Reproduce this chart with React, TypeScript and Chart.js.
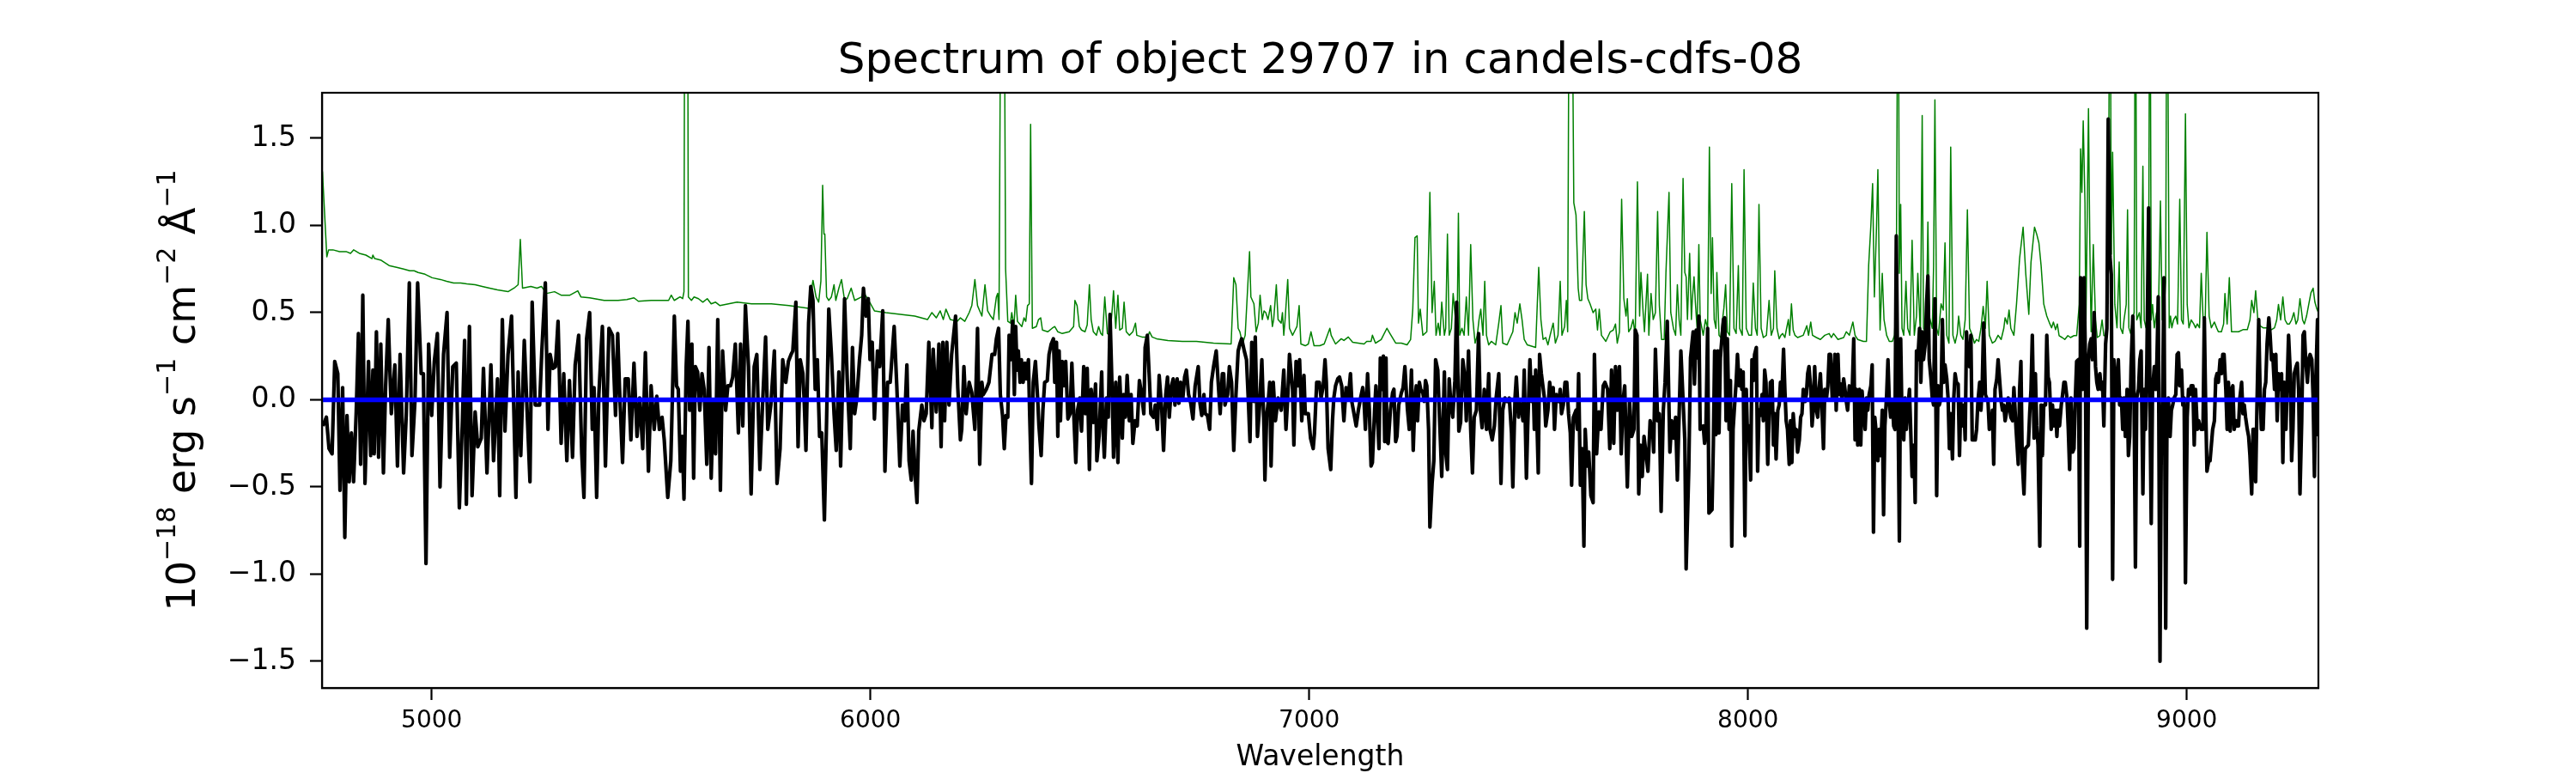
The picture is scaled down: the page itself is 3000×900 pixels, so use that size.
import React, { useEffect, useRef } from 'react';
import { Chart, registerables } from 'chart.js';

Chart.register(...registerables);

const TITLE = 'Spectrum of object 29707 in candels-cdfs-08';
const X_LABEL = 'Wavelength';
const Y_LABEL_PARTS: [string, boolean][] = [
  ['10', false], ['\u221218', true], [' erg s', false], ['\u22121', true],
  [' cm', false], ['\u22122', true], [' \u00c5', false], ['\u22121', true],
];
const X_TICKS = [5000, 6000, 7000, 8000, 9000];
const Y_TICKS = [-1.5, -1.0, -0.5, 0, 0.5, 1.0, 1.5];
const X_MIN = 4750;
const X_MAX = 9300;
const Y_MIN = -1.653;
const Y_MAX = 1.761;

// blue model / zero level
const MODEL: [number, number][] = [[4750, 0], [9300, 0]];

// black: measured flux
const FLUX: [number, number][] = [
[4752,-0.15],[4760,-0.10],[4766,-0.28],[4773,-0.31],[4779,0.22],[4786,0.15],[4791,-0.52],[4797,0.07],[4802,-0.79],[4807,-0.09],[4812,-0.47],[4817,-0.19],[4822,-0.47],[4828,-0.07],[4833,0.38],[4838,-0.37],[4843,0.60],[4848,-0.48],[4856,0.22],[4861,-0.32],[4866,0.17],[4869,-0.31],[4874,0.39],[4879,-0.33],[4884,0.32],[4890,-0.42],[4895,0.08],[4901,0.46],[4908,-0.08],[4916,0.20],[4922,-0.38],[4928,0.26],[4936,-0.42],[4942,-0.09],[4949,0.67],[4955,-0.32],[4962,0.00],[4968,0.67],[4976,0.15],[4981,0.15],[4987,-0.94],[4993,0.32],[5000,-0.09],[5006,0.22],[5013,0.38],[5019,-0.50],[5027,0.26],[5035,0.50],[5041,-0.33],[5048,0.19],[5056,0.21],[5063,-0.62],[5070,-0.12],[5075,0.34],[5079,-0.60],[5086,0.42],[5092,-0.55],[5099,-0.07],[5105,-0.27],[5113,-0.22],[5118,0.18],[5126,-0.42],[5135,0.20],[5141,-0.35],[5150,0.12],[5155,-0.55],[5161,0.46],[5167,-0.18],[5174,0.26],[5182,0.48],[5192,-0.56],[5197,0.16],[5203,-0.32],[5211,0.34],[5224,-0.47],[5229,0.56],[5236,-0.03],[5246,-0.03],[5251,0.28],[5259,0.67],[5265,-0.17],[5270,0.26],[5276,0.18],[5282,0.19],[5288,0.45],[5295,-0.25],[5301,0.15],[5308,-0.35],[5314,0.11],[5321,-0.33],[5327,0.20],[5335,0.37],[5342,-0.31],[5347,-0.56],[5353,0.35],[5360,0.50],[5366,-0.17],[5370,0.07],[5376,-0.56],[5381,0.03],[5389,0.42],[5396,-0.38],[5404,0.41],[5412,0.37],[5419,-0.09],[5424,0.38],[5428,0.07],[5435,-0.36],[5441,0.12],[5448,0.12],[5454,-0.23],[5461,0.21],[5468,-0.21],[5474,0.01],[5481,-0.28],[5487,0.27],[5494,-0.41],[5500,0.08],[5507,-0.17],
[5513,0.02],[5519,-0.17],[5525,-0.10],[5530,-0.23],[5538,-0.56],[5545,-0.35],[5547,-0.15],[5553,0.48],[5558,0.08],[5562,0.06],[5567,-0.41],[5571,-0.21],[5575,-0.57],[5580,0.19],[5584,0.45],[5588,-0.06],[5593,0.32],[5597,-0.45],[5601,0.19],[5606,0.16],[5611,-0.06],[5616,0.15],[5621,0.06],[5627,-0.37],[5632,0.30],[5637,-0.45],[5642,-0.01],[5647,-0.31],[5652,0.46],[5658,-0.52],[5663,0.28],[5670,-0.06],[5675,0.08],[5681,0.08],[5686,0.13],[5692,0.32],[5699,-0.19],[5704,0.32],[5709,-0.15],[5715,0.54],[5722,0.19],[5728,-0.54],[5735,0.19],[5741,0.26],[5748,-0.40],[5754,-0.03],[5761,0.36],[5766,-0.17],[5773,-0.03],[5781,0.28],[5787,-0.48],[5794,-0.28],[5800,0.23],[5807,0.10],[5813,0.22],[5819,0.26],[5823,0.28],[5830,0.56],[5835,-0.27],[5840,0.23],[5846,0.15],[5849,-0.01],[5853,-0.29],[5859,0.44],[5864,0.65],[5869,0.57],[5874,0.06],[5879,0.23],[5884,-0.21],[5889,-0.19],[5895,-0.69],[5900,-0.12],[5905,0.52],[5911,0.26],[5917,-0.08],[5922,-0.29],[5928,0.16],[5932,-0.38],[5941,0.58],[5947,0.12],[5954,-0.28],[5959,0.30],[5964,-0.08],[5969,0.01],[5975,0.23],[5980,0.37],[5984,0.64],[5990,0.48],[5995,0.58],[5999,0.23],[6004,0.33],[6009,-0.11],[6016,0.28],[6021,0.19],[6028,0.51],[6033,-0.41],[6039,0.10],[6045,0.10],[6054,0.42],[6060,0.08],[6067,-0.38],[6073,-0.03],[6078,-0.12],[6083,0.20],[6088,-0.35],[6093,-0.46],[6097,-0.18],[6102,-0.44],[6106,-0.59],[6110,-0.18],[6117,-0.03],[6122,-0.12],[6127,-0.08],[6133,0.33],[6140,-0.16],[6143,0.29],[6150,-0.07],[6156,0.32],[6161,-0.27],[6165,0.33],[6169,-0.12],[6174,0.33],[6179,-0.03],[6185,0.26],[6194,0.48],[6199,0.07],[6205,-0.23],[6208,-0.17],[6213,0.19],[6218,-0.08],[6225,0.10],[6231,0.04],[6238,-0.17],[6244,0.41],[6249,-0.37],[6254,0.10],[6257,0.03],[6264,0.06],[6270,0.10],[6277,0.26],[6283,0.26],
[6287,0.35],[6292,0.41],[6296,0.03],[6301,-0.09],[6305,-0.28],[6309,-0.09],[6313,-0.10],[6316,0.37],[6320,0.23],[6324,0.45],[6328,0.03],[6331,0.42],[6334,0.17],[6337,0.28],[6341,0.10],[6344,0.23],[6348,0.10],[6352,0.21],[6355,0.12],[6360,0.23],[6363,-0.10],[6367,-0.48],[6371,0.10],[6376,0.22],[6381,0.01],[6384,-0.15],[6389,-0.32],[6393,-0.06],[6397,0.10],[6403,0.11],[6407,0.26],[6412,0.32],[6417,0.35],[6420,0.10],[6424,0.33],[6427,-0.21],[6430,0.28],[6433,-0.12],[6437,0.22],[6441,0.08],[6445,0.22],[6450,-0.11],[6455,-0.08],[6459,0.21],[6463,-0.06],[6468,-0.36],[6472,-0.06],[6477,0.01],[6481,-0.18],[6486,0.19],[6490,-0.08],[6494,0.18],[6499,-0.40],[6503,0.06],[6508,-0.13],[6513,0.09],[6516,-0.35],[6521,-0.21],[6527,0.16],[6529,-0.10],[6533,-0.33],[6538,0.01],[6542,-0.10],[6546,0.49],[6551,0.03],[6554,-0.33],[6559,0.10],[6564,-0.36],[6568,0.13],[6574,-0.22],[6577,0.03],[6581,-0.10],[6585,0.14],[6590,-0.12],[6594,0.03],[6598,-0.25],[6603,-0.12],[6608,-0.15],[6613,0.11],[6618,0.03],[6623,-0.08],[6626,0.30],[6631,0.37],[6636,0.10],[6639,-0.08],[6645,-0.10],[6649,-0.03],[6654,-0.17],[6658,0.14],[6664,-0.06],[6668,-0.29],[6673,0.03],[6677,0.13],[6681,-0.10],[6686,0.08],[6690,0.12],[6694,-0.03],[6699,0.12],[6703,-0.02],[6707,0.10],[6712,0.01],[6716,0.13],[6720,0.17],[6725,0.03],[6730,-0.02],[6735,-0.11],[6740,0.08],[6747,0.19],[6751,-0.02],[6755,-0.09],[6760,0.03],[6763,-0.08],[6768,-0.09],[6773,-0.17],[6777,0.10],[6782,0.19],[6788,0.28],[6792,0.12],[6797,-0.08],[6802,0.15],[6805,0.15],[6808,-0.03],[6814,0.03],[6818,0.19],[6823,0.10],[6828,-0.29],[6833,0.03],[6838,0.28],[6842,0.32],[6846,0.35],[6852,0.28],[6857,0.23],[6861,0.01],[6865,-0.24],[6869,0.33],[6874,-0.01],[6877,0.36],[6882,-0.21],[6887,-0.03],[6892,0.23],[6897,-0.17],[6899,-0.46],[6903,-0.09],[6906,-0.03],[6910,0.10],[6913,-0.38],[6918,0.10],[6923,-0.12],[6929,0.01],[6936,-0.06],[6942,0.17],[6947,-0.17],[6951,0.01],[6955,0.26],[6962,0.06],[6965,-0.26],[6970,0.22],[6975,0.08],[6978,0.23],[6983,-0.12],[6988,0.14],[6991,-0.08],[6998,-0.08],[7003,-0.22],[7009,-0.28],[7012,-0.19],[7017,0.10],[7023,0.10],[7027,0.01],[7032,0.08],[7036,0.23],[7039,0.10],[7043,-0.28],[7049,-0.40],[7053,-0.12],[7056,0.01],[7060,0.08],
[7065,0.12],[7069,0.13],[7074,0.08],[7079,-0.12],[7084,0.07],[7089,0.01],[7094,0.15],[7097,-0.01],[7102,-0.08],[7107,-0.15],[7112,-0.06],[7117,0.01],[7122,0.07],[7125,-0.01],[7128,-0.17],[7133,0.15],[7137,-0.06],[7141,-0.38],[7144,-0.36],[7149,-0.06],[7152,0.08],[7156,-0.12],[7159,-0.28],[7162,0.24],[7165,0.06],[7169,0.25],[7172,-0.24],[7175,0.24],[7177,-0.24],[7180,-0.25],[7185,-0.06],[7190,0.04],[7193,0.06],[7197,-0.24],[7200,-0.21],[7204,-0.03],[7210,0.04],[7214,0.07],[7218,0.19],[7221,0.06],[7224,-0.06],[7228,-0.17],[7233,0.17],[7237,-0.29],[7241,0.01],[7244,0.08],[7247,-0.12],[7251,0.10],[7254,0.06],[7259,0.04],[7262,-0.01],[7265,0.11],[7268,0.08],[7272,-0.17],[7275,-0.73],[7280,-0.48],[7284,-0.35],[7288,0.23],[7293,0.17],[7298,-0.17],[7302,-0.44],[7308,0.16],[7311,-0.30],[7315,-0.40],[7319,0.12],[7323,-0.03],[7327,-0.10],[7332,0.11],[7336,0.56],[7341,-0.18],[7345,-0.13],[7350,0.23],[7355,0.12],[7358,-0.12],[7363,0.28],[7368,-0.17],[7372,-0.42],[7376,-0.10],[7381,-0.06],[7386,0.38],[7390,-0.06],[7394,-0.16],[7399,0.06],[7404,-0.17],[7409,0.15],[7412,-0.17],[7417,-0.23],[7422,-0.15],[7426,0.01],[7432,0.15],[7437,-0.48],[7441,-0.06],[7446,0.01],[7451,-0.01],[7456,0.01],[7461,-0.19],[7464,-0.50],[7469,0.01],[7472,0.13],[7477,-0.10],[7480,-0.02],[7484,-0.03],[7487,-0.12],[7490,0.17],[7495,-0.45],[7498,-0.15],[7503,0.23],[7507,-0.01],[7510,0.13],[7513,-0.17],[7516,0.17],[7522,-0.42],[7525,0.26],[7529,0.15],[7536,0.01],[7539,-0.15],[7544,-0.06],[7548,0.10],[7552,0.01],[7556,0.07],[7559,-0.17],[7563,0.03],[7569,-0.01],[7572,0.06],[7575,-0.08],[7579,-0.03],[7583,0.10],[7587,0.10],[7591,-0.08],[7595,-0.19],[7598,-0.49],[7602,-0.10],[7608,-0.06],[7611,-0.17],[7614,0.15],[7618,-0.49],[7622,-0.28],[7626,-0.84],[7629,-0.17],[7633,-0.38],[7637,-0.30],[7642,-0.55],[7647,-0.59],[7650,0.26],[7655,-0.31],[7660,-0.07],[7665,-0.17],[7670,0.08],[7674,0.10],[7680,0.06],[7685,-0.28],[7689,0.17],[7694,-0.25],[7698,0.19],[7702,-0.06],[7707,0.19],[7711,-0.31],[7715,-0.01],[7719,0.08],[7725,-0.50],[7730,-0.01],[7735,-0.21],[7740,-0.17],[7743,0.40],[7747,0.37],[7751,-0.54],[7755,-0.26],[7759,-0.44],[7763,-0.21],[7768,-0.32],[7772,-0.41],[7777,-0.12],[7783,-0.19],[7785,-0.30],[7789,0.29],[7794,-0.12],[7798,-0.08],[7802,-0.64],[7807,-0.06],[7811,0.10],[7816,0.45],[7822,-0.30],[7826,-0.12],[7831,-0.22],[7835,-0.10],[7839,-0.46],
[7847,0.28],[7856,-0.23],[7859,-0.97],[7865,-0.40],[7869,0.24],[7875,0.39],[7878,0.09],[7882,0.40],[7885,0.24],[7888,0.48],[7891,-0.17],[7898,-0.15],[7901,-0.25],[7904,-0.18],[7908,0.41],[7911,-0.65],[7918,-0.63],[7921,-0.26],[7924,0.28],[7927,-0.20],[7931,0.28],[7934,-0.19],[7937,0.24],[7944,0.46],[7947,0.47],[7950,-0.12],[7953,0.35],[7957,-0.17],[7960,0.11],[7963,-0.84],[7966,-0.17],[7970,-0.01],[7973,0.10],[7976,0.26],[7980,0.08],[7983,0.17],[7986,0.06],[7989,0.16],[7993,-0.78],[7996,0.06],[7999,-0.23],[8002,-0.15],[8006,-0.46],[8009,0.23],[8012,0.11],[8015,0.26],[8019,0.30],[8022,-0.41],[8025,-0.06],[8028,-0.09],[8032,0.03],[8035,-0.12],[8038,0.17],[8041,0.10],[8045,-0.37],[8048,-0.10],[8051,0.10],[8055,0.11],[8058,-0.26],[8061,-0.08],[8064,-0.34],[8068,-0.06],[8071,-0.03],[8074,0.10],[8077,0.01],[8081,0.29],[8084,0.06],[8087,-0.12],[8090,-0.17],[8094,-0.37],[8097,-0.12],[8100,-0.36],[8103,-0.08],[8107,-0.21],[8110,-0.17],[8113,-0.30],[8117,-0.23],[8120,-0.10],[8123,-0.08],[8126,0.06],[8130,-0.01],[8133,0.03],[8136,0.15],[8139,0.19],[8143,0.06],[8146,-0.15],[8149,-0.05],[8152,0.19],[8156,-0.06],[8159,-0.10],[8162,0.06],[8165,0.15],[8169,-0.08],[8172,-0.28],[8175,0.06],[8179,0.01],[8182,0.08],[8185,0.26],[8188,0.26],[8192,0.01],[8195,0.08],[8198,0.26],[8201,-0.06],[8205,0.26],[8208,0.03],[8211,0.09],[8214,0.01],[8218,0.12],[8221,0.06],[8224,-0.01],[8227,-0.06],[8231,0.08],[8234,0.06],[8237,0.01],[8241,0.35],[8244,-0.23],[8247,0.06],[8250,-0.26],[8254,0.06],[8257,-0.26],[8260,0.05],[8263,-0.06],[8267,-0.17],[8270,0.01],[8273,-0.06],[8276,0.03],[8280,0.08],[8283,0.20],[8286,-0.76],[8289,-0.10],[8293,-0.21],[8296,-0.35],[8299,-0.17],[8302,-0.32],[8306,-0.06],[8309,-0.66],[8312,-0.15],[8316,0.03],[8319,0.23],[8322,-0.01],[8325,-0.10],[8329,-0.01],[8332,-0.15],[8335,-0.17],[8338,0.94],[8342,-0.06],[8345,-0.81],[8348,0.35],[8351,-0.12],[8355,-0.23],[8358,0.01],[8361,-0.17],[8364,-0.06],[8368,0.06],[8371,-0.19],[8374,-0.44],[8378,-0.26],[8381,-0.59],[8384,0.28],[8387,0.23],[8391,0.41],[8394,0.10],[8397,0.39],[8400,0.23],[8404,0.32],[8407,0.55],[8410,0.71],[8413,0.23],[8417,0.12],[8420,0.01],[8423,-0.03],[8426,0.58],[8430,-0.55],[8433,0.08],[8436,-0.03],[8440,0.01],[8443,0.46],[8446,0.10],[8449,0.20],[8453,0.12],[8456,0.01],[8459,-0.28],[8462,-0.08],[8466,-0.34],[8469,0.01],[8472,0.15],[8475,0.10],[8479,0.09],[8482,-0.32],[8485,-0.01],[8488,-0.15],[8492,-0.03],[8495,-0.23],[8498,0.39],[8501,0.23],[8505,0.19],[8508,0.37],[8511,-0.23],[8518,-0.23],[8521,-0.17],[8524,-0.01],[8528,0.10],[8531,-0.06],[8534,0.10],[8537,0.44],[8541,0.03],[8547,-0.01],[8550,-0.17],[8554,-0.15],[8557,-0.06],[8560,-0.37],[8563,0.06],[8567,0.12],[8570,0.23],[8573,0.13],[8577,-0.01],[8580,-0.06],[8583,-0.03],[8586,-0.12],[8590,-0.06],[8593,0.01],[8596,-0.03],[8599,-0.10],[8603,-0.12],
[8606,0.07],[8611,-0.17],[8616,-0.37],[8619,0.06],[8622,0.22],[8625,-0.35],[8629,-0.54],[8632,-0.28],[8639,-0.26],[8642,-0.08],[8645,0.06],[8648,0.37],[8652,-0.22],[8655,0.15],[8658,-0.15],[8661,-0.26],[8665,-0.84],[8668,-0.03],[8671,-0.32],[8674,-0.03],[8678,-0.03],[8681,0.37],[8684,0.13],[8687,0.10],[8691,-0.17],[8694,-0.03],[8697,-0.15],[8701,-0.06],[8704,-0.21],[8707,-0.06],[8710,-0.15],[8714,-0.03],[8717,0.03],[8720,0.10],[8723,0.10],[8727,0.01],[8730,-0.17],[8733,-0.40],[8736,0.01],[8740,-0.30],[8743,-0.28],[8746,0.01],[8749,0.22],[8753,0.23],[8756,-0.84],[8758,0.70],[8763,0.06],[8766,0.70],[8769,0.23],[8772,-1.31],[8776,0.23],[8779,0.32],[8782,0.35],[8785,0.23],[8789,0.50],[8792,0.19],[8795,0.10],[8798,0.06],[8802,0.15],[8805,0.06],[8808,0.10],[8811,-0.15],[8815,0.32],[8818,0.41],[8821,1.61],[8825,0.82],[8828,0.72],[8831,-1.03],[8834,0.23],[8838,0.01],[8841,0.10],[8844,0.23],[8847,-0.03],[8851,0.01],[8854,-0.17],[8857,0.01],[8860,-0.21],[8864,0.06],[8867,-0.32],[8870,-0.21],[8873,0.19],[8877,0.48],[8880,-0.03],[8883,-0.96],[8886,0.01],[8890,0.06],[8893,0.23],[8896,0.28],[8900,-0.54],[8903,0.06],[8906,-0.17],[8909,0.21],[8913,1.10],[8916,0.01],[8919,-0.71],[8922,0.06],[8926,0.19],[8929,0.06],[8932,0.23],[8935,0.59],[8939,-1.50],[8942,-0.21],[8945,0.01],[8948,0.70],[8952,-1.31],[8955,-0.08],[8958,0.01],[8962,-0.21],[8965,-0.06],[8968,-0.03],[8971,0.01],[8975,0.03],[8978,0.26],[8981,0.27],[8984,0.08],[8988,0.17],[8991,-0.03],[8994,0.01],[8997,-1.05],[9001,-0.10],[9004,0.06],[9007,0.03],[9010,0.08],[9014,0.08],[9017,-0.26],[9020,0.06],[9024,-0.17],[9027,-0.12],[9030,-0.15],[9033,-0.17],[9037,-0.17],[9040,0.47],[9043,-0.03],[9046,-0.41],[9050,-0.35],[9053,-0.35],[9056,-0.26],[9059,-0.17],[9063,-0.12],[9066,0.12],[9069,0.15],[9072,0.10],[9076,0.23],[9079,0.15],[9082,0.26],[9085,0.26],[9089,0.06],[9092,-0.17],[9095,0.10],[9099,-0.18],[9102,0.06],[9105,0.08],[9108,-0.17],[9112,-0.12],[9115,-0.15],[9118,-0.15],[9121,0.01],[9125,0.10],[9128,-0.08],[9131,-0.03],[9134,-0.10],[9138,-0.17],[9141,-0.21],[9144,-0.32],[9148,-0.54],[9151,-0.17],[9154,-0.17],[9157,-0.47],[9160,-0.03],[9164,0.46],[9167,0.06],[9170,-0.17],[9174,-0.17],[9177,0.06],[9180,0.10],[9183,0.32],[9187,0.47],[9190,0.37],[9193,0.23],[9196,0.26],[9200,0.06],[9203,0.26],[9206,-0.12],[9209,0.15],[9213,0.06],[9216,0.15],[9219,-0.36],[9222,0.10],[9226,-0.17],[9229,0.10],[9232,0.37],[9236,0.15],[9239,-0.35],[9242,-0.17],[9245,0.15],[9249,0.19],[9252,0.21],[9255,0.06],[9258,-0.54],[9262,-0.12],[9265,0.37],[9268,0.39],[9271,0.23],[9275,0.10],[9278,0.23],[9281,0.26],[9285,0.23],[9288,0.01],[9291,-0.44],[9294,0.10],[9298,0.46],[9300,-0.21],
];

// green: error / sky spectrum
const ERROR: [number, number][] = [
[4751,1.31],[4761,0.82],[4765,0.86],[4775,0.86],[4790,0.85],[4805,0.85],[4815,0.84],[4822,0.86],[4835,0.84],[4850,0.83],[4864,0.81],[4866,0.83],[4870,0.81],[4885,0.80],[4903,0.77],[4920,0.76],[4936,0.75],[4950,0.74],[4960,0.74],[4969,0.73],[4985,0.72],[5001,0.70],[5020,0.69],[5034,0.68],[5050,0.67],[5066,0.67],[5080,0.665],[5099,0.66],[5115,0.65],[5132,0.64],[5150,0.63],[5174,0.62],[5190,0.645],[5197,0.66],[5202,0.92],[5207,0.64],[5226,0.65],[5240,0.64],[5250,0.65],[5262,0.61],[5280,0.62],[5295,0.60],[5315,0.60],[5333,0.625],[5340,0.59],[5360,0.585],[5393,0.57],[5425,0.57],[5445,0.575],[5461,0.585],[5471,0.565],[5500,0.57],
[5513,0.57],[5540,0.57],[5546,0.60],[5553,0.57],[5566,0.59],[5572,0.58],[5575,0.62],[5577,3.0],[5583,3.0],[5585,0.59],[5592,0.57],[5598,0.59],[5608,0.58],[5618,0.56],[5628,0.58],[5637,0.55],[5647,0.56],[5657,0.54],[5696,0.56],[5729,0.55],[5774,0.55],[5814,0.54],[5859,0.525],[5869,0.685],[5876,0.59],[5882,0.56],[5887,0.68],[5891,1.23],[5894,0.95],[5896,0.95],[5900,0.59],[5905,0.57],[5911,0.59],[5917,0.66],[5921,0.57],[5928,0.64],[5934,0.69],[5941,0.57],[5947,0.58],[5956,0.64],[5964,0.57],[5980,0.59],[5983,0.62],[5996,0.57],[6009,0.51],[6035,0.50],[6068,0.49],[6101,0.48],[6130,0.46],[6140,0.50],[6150,0.47],[6159,0.51],[6166,0.46],[6172,0.52],[6182,0.46],[6198,0.45],[6205,0.47],[6215,0.45],[6225,0.50],[6231,0.54],[6238,0.69],[6244,0.54],[6254,0.48],[6261,0.66],[6267,0.51],[6274,0.48],[6280,0.46],
[6287,0.59],[6290,0.61],[6293,0.46],[6298,3.0],[6304,3.0],[6308,0.75],[6313,0.45],[6319,0.44],[6322,0.50],[6327,0.42],[6331,0.60],[6335,0.45],[6345,0.42],[6350,0.47],[6354,0.45],[6358,0.54],[6362,0.55],[6365,1.58],[6369,0.41],[6378,0.42],[6383,0.46],[6388,0.47],[6392,0.40],[6404,0.39],[6414,0.41],[6420,0.42],[6427,0.39],[6437,0.38],[6453,0.39],[6463,0.42],[6466,0.57],[6471,0.54],[6476,0.42],[6481,0.40],[6489,0.39],[6494,0.43],[6499,0.66],[6503,0.46],[6508,0.39],[6515,0.37],[6520,0.42],[6525,0.38],[6529,0.37],[6534,0.59],[6540,0.38],[6546,0.37],[6551,0.52],[6554,0.625],[6559,0.41],[6564,0.60],[6568,0.40],[6574,0.41],[6578,0.56],[6583,0.39],[6590,0.37],[6598,0.39],[6604,0.44],[6607,0.37],[6619,0.36],[6632,0.36],[6636,0.39],[6642,0.36],[6652,0.35],[6678,0.34],[6711,0.335],[6743,0.335],[6782,0.325],[6822,0.32],[6828,0.70],[6833,0.66],[6838,0.41],[6842,0.39],[6848,0.32],[6854,0.37],[6864,0.85],[6867,0.59],[6874,0.55],[6879,0.39],[6884,0.44],[6888,0.60],[6893,0.46],[6897,0.51],[6901,0.50],[6906,0.46],[6912,0.54],[6916,0.42],[6919,0.46],[6925,0.66],[6929,0.46],[6936,0.44],[6939,0.50],[6942,0.37],[6945,0.46],[6951,0.69],[6955,0.41],[6962,0.37],[6968,0.40],[6972,0.42],[6977,0.54],[6981,0.32],[6991,0.31],[6998,0.32],[7004,0.39],[7011,0.31],[7017,0.31],[7024,0.31],[7034,0.32],[7037,0.34],[7047,0.41],[7050,0.37],[7060,0.32],
[7073,0.35],[7079,0.34],[7089,0.36],[7099,0.33],[7125,0.32],[7131,0.335],[7141,0.335],[7144,0.37],[7151,0.325],[7164,0.345],[7177,0.41],[7184,0.38],[7197,0.325],[7210,0.325],[7223,0.315],[7231,0.345],[7236,0.52],[7241,0.93],[7246,0.94],[7249,0.44],[7253,0.52],[7259,0.37],[7268,0.39],[7275,1.19],[7280,0.50],[7285,0.68],[7289,0.37],[7294,0.44],[7298,0.37],[7302,0.56],[7308,0.37],[7311,0.41],[7315,0.95],[7319,0.37],[7324,0.41],[7328,0.61],[7334,0.44],[7337,0.37],[7340,1.07],[7343,0.37],[7348,0.41],[7353,0.37],[7358,0.59],[7363,0.37],[7368,0.89],[7373,0.46],[7378,0.325],[7383,0.37],[7387,0.46],[7391,0.52],[7396,0.37],[7400,0.68],[7404,0.37],[7409,0.315],[7415,0.335],[7425,0.315],[7432,0.44],[7437,0.54],[7441,0.325],[7451,0.315],[7464,0.39],[7469,0.50],[7474,0.44],[7480,0.55],[7485,0.46],[7490,0.346],[7497,0.315],[7516,0.30],[7523,0.76],[7528,0.46],[7533,0.346],[7539,0.357],[7544,0.315],[7549,0.37],[7556,0.44],[7561,0.325],[7567,0.37],[7572,0.68],[7576,0.37],[7582,0.42],[7586,0.57],[7589,0.39],[7593,3.0],[7599,2.5],[7603,1.13],[7608,1.06],[7613,0.64],[7616,0.57],[7621,0.57],[7624,0.84],[7627,1.08],[7631,0.66],[7635,0.58],[7640,0.55],[7647,0.50],[7653,0.52],[7657,0.40],[7661,0.52],[7666,0.37],[7676,0.335],[7686,0.39],[7693,0.40],[7698,0.435],[7702,0.325],[7707,0.39],[7712,1.15],[7717,0.58],[7722,0.48],[7725,0.58],[7728,0.39],[7733,0.41],[7738,0.46],[7743,0.37],[7748,1.25],[7753,0.48],[7756,0.73],[7761,0.50],[7764,0.39],[7771,0.72],[7774,0.37],[7779,0.61],[7784,0.46],[7789,0.50],[7794,1.08],[7798,0.54],[7803,0.346],[7809,0.346],[7813,0.73],[7820,1.19],[7824,0.50],[7830,0.41],[7835,0.37],
[7839,0.66],[7843,0.46],[7847,0.37],[7852,1.27],[7856,0.73],[7859,0.705],[7862,0.46],[7867,0.84],[7871,0.46],[7873,0.57],[7877,0.705],[7880,0.56],[7884,0.41],[7888,0.89],[7891,0.46],[7895,0.41],[7898,0.37],[7903,0.46],[7908,0.41],[7912,1.45],[7916,0.61],[7919,0.93],[7923,0.46],[7927,0.41],[7929,0.73],[7934,0.37],[7938,0.357],[7942,0.46],[7945,0.525],[7949,0.66],[7953,0.39],[7958,0.37],[7963,1.24],[7968,0.41],[7973,0.38],[7978,0.77],[7981,0.41],[7987,0.37],[7991,1.32],[7996,0.41],[8002,0.37],[8008,0.37],[8012,0.67],[8017,0.41],[8021,0.37],[8025,1.12],[8030,0.41],[8035,0.357],[8042,0.37],[8048,0.57],[8053,0.37],[8058,0.41],[8061,0.74],[8066,0.41],[8071,0.35],[8075,0.37],[8079,0.38],[8084,0.357],[8088,0.41],[8092,0.46],[8095,0.37],[8099,0.55],[8103,0.40],[8107,0.37],[8113,0.357],[8126,0.37],[8134,0.425],[8138,0.37],[8143,0.446],[8147,0.37],[8156,0.357],[8165,0.346],[8175,0.37],[8185,0.38],[8190,0.357],[8195,0.38],[8205,0.346],[8218,0.357],[8224,0.39],[8231,0.37],[8239,0.446],[8244,0.37],[8250,0.346],[8263,0.335],[8270,0.335],[8275,0.77],[8280,1.0],[8284,1.24],[8288,0.59],[8293,1.0],[8296,1.32],[8301,0.40],[8306,0.725],[8310,0.46],[8316,0.37],[8322,0.335],[8329,0.335],[8334,0.37],[8338,0.635],[8342,3.0],[8345,0.725],[8348,1.12],[8351,0.41],[8355,0.37],[8360,0.68],[8364,0.41],[8369,0.37],[8374,0.915],[8379,0.37],[8384,0.48],[8387,0.725],[8393,0.37],[8397,1.63],[8400,0.41],[8406,0.37],[8410,1.02],[8413,0.48],[8420,0.41],[8423,0.77],[8426,1.72],[8430,0.41],[8434,0.37],[8440,0.55],[8445,0.515],[8449,0.90],[8453,0.37],[8458,0.325],[8462,1.45],[8467,0.37],[8472,0.325],[8477,0.38],[8480,0.48],[8485,0.37],[8490,0.346],[8495,0.46],[8500,1.09],[8505,0.41],[8511,0.37],[8516,0.325],[8521,0.346],[8526,0.335],[8531,0.41],[8536,0.535],[8541,0.41],[8545,0.68],[8550,0.37],[8557,0.325],[8563,0.335],[8570,0.37],[8577,0.346],[8583,0.41],[8586,0.47],[8591,0.435],[8595,0.515],[8599,0.41],
[8606,0.37],[8612,0.55],[8619,0.81],[8627,0.99],[8633,0.725],[8640,0.49],[8645,0.79],[8653,0.99],[8658,0.95],[8663,0.90],[8668,0.77],[8674,0.55],[8681,0.48],[8688,0.435],[8692,0.413],[8696,0.446],[8701,0.402],[8705,0.435],[8709,0.368],[8716,0.357],[8722,0.346],[8729,0.368],[8735,0.357],[8743,0.368],[8749,0.368],[8755,0.547],[8758,1.44],[8761,1.19],[8764,1.60],[8768,1.13],[8770,0.39],[8776,1.67],[8779,0.90],[8782,0.39],[8787,0.89],[8792,0.458],[8796,0.357],[8802,0.368],[8807,0.458],[8811,0.368],[8816,0.368],[8821,0.68],[8825,3.0],[8828,0.835],[8831,1.42],[8836,0.547],[8841,0.413],[8846,0.79],[8849,0.413],[8854,0.38],[8857,0.458],[8862,0.547],[8865,1.09],[8868,0.413],[8872,0.38],[8876,0.458],[8880,0.50],[8883,3.0],[8886,0.458],[8892,0.50],[8896,0.413],[8900,1.34],[8903,0.458],[8907,0.413],[8913,0.614],[8916,3.0],[8919,0.458],[8922,0.547],[8926,0.413],[8931,0.50],[8935,0.435],[8940,1.14],[8944,0.458],[8948,0.50],[8952,0.68],[8955,3.0],[8960,0.413],[8963,0.48],[8966,0.413],[8970,0.458],[8975,0.48],[8979,0.435],[8984,1.15],[8988,0.458],[8992,0.435],[8997,1.64],[9001,0.547],[9005,0.413],[9010,0.458],[9016,0.435],[9020,0.413],[9024,0.435],[9029,0.413],[9033,0.725],[9038,0.413],[9042,0.458],[9046,0.96],[9051,0.48],[9056,0.413],[9063,0.446],[9068,0.413],[9072,0.39],[9079,0.39],[9084,0.435],[9087,0.61],[9092,0.435],[9097,0.70],[9102,0.39],[9108,0.39],[9118,0.39],[9128,0.402],[9138,0.402],[9144,0.458],[9148,0.57],[9153,0.50],[9157,0.625],[9162,0.458],[9167,0.424],[9174,0.413],[9180,0.413],[9187,0.413],[9193,0.402],[9200,0.413],[9205,0.458],[9209,0.547],[9214,0.458],[9219,0.59],[9224,0.458],[9229,0.435],[9234,0.435],[9239,0.458],[9244,0.50],[9249,0.435],[9253,0.458],[9258,0.58],[9264,0.458],[9268,0.435],[9273,0.48],[9278,0.547],[9283,0.614],[9288,0.64],[9292,0.56],[9296,0.525],[9300,0.50],
];

const FONT = '"DejaVu Sans", "Liberation Sans", sans-serif';

const toXY = (pts: [number, number][]) => pts.map(([x, y]) => ({ x, y }));

const fmtY = (v: number) => (v < 0 ? '\u2212' : '') + Math.abs(v).toFixed(1);

const mplPlugin = {
  id: 'mplDecor',
  afterDatasetsDraw(chart: any) {
    const { ctx, chartArea: a } = chart;
    ctx.save();
    ctx.strokeStyle = '#000';
    ctx.lineWidth = 2.2;
    ctx.strokeRect(a.left, a.top, a.right - a.left, a.bottom - a.top);
    ctx.restore();
  },
  afterDraw(chart: any) {
    const { ctx, chartArea: a } = chart;
    const cx = (a.left + a.right) / 2;
    const cy = (a.top + a.bottom) / 2;
    ctx.save();
    ctx.fillStyle = '#000';
    ctx.textBaseline = 'alphabetic';
    ctx.textAlign = 'center';
    ctx.font = `50px ${FONT}`;
    ctx.fillText(TITLE, cx, a.top - 23);
    ctx.font = `33px ${FONT}`;
    ctx.fillText(X_LABEL, cx, a.bottom + 90);

    // rotated y label with superscripts
    const F = 46;
    const S = Math.round(F * 0.65);
    const raise = F * 0.5;
    let total = 0;
    const widths = Y_LABEL_PARTS.map(([t, sup]) => {
      ctx.font = `${sup ? S : F}px ${FONT}`;
      const w = ctx.measureText(t).width;
      total += w;
      return w;
    });
    ctx.translate(a.left - 148, cy);
    ctx.rotate(-Math.PI / 2);
    ctx.textAlign = 'left';
    let x = -total / 2;
    Y_LABEL_PARTS.forEach(([t, sup], i) => {
      ctx.font = `${sup ? S : F}px ${FONT}`;
      ctx.fillText(t, x, sup ? -raise : 0);
      x += widths[i];
    });
    ctx.restore();
  },
};

export default function App() {
  const ref = useRef<HTMLCanvasElement | null>(null);
  useEffect(() => {
    if (!ref.current) return;
    const chart = new Chart(ref.current, {
      type: 'line',
      data: {
        datasets: [
          {
            label: 'model',
            data: toXY(MODEL),
            borderColor: '#0000ff',
            borderWidth: 5.5,
            pointRadius: 0,
            order: 0,
          },
          {
            label: 'flux',
            data: toXY(FLUX),
            borderColor: '#000000',
            borderWidth: 4.2,
            pointRadius: 0,
            borderJoinStyle: 'round',
            order: 1,
          },
          {
            label: 'error',
            data: toXY(ERROR),
            borderColor: '#008000',
            borderWidth: 1.5,
            pointRadius: 0,
            borderJoinStyle: 'round',
            order: 2,
          },
        ],
      },
      options: {
        animation: false,
        responsive: false,
        devicePixelRatio: 1,
        events: [],
        layout: { padding: { left: 0, right: 300, top: 108, bottom: 0 } },
        elements: { line: { tension: 0 } },
        plugins: {
          legend: { display: false },
          tooltip: { enabled: false },
          title: { display: false },
        },
        scales: {
          x: {
            type: 'linear',
            min: X_MIN,
            max: X_MAX,
            afterBuildTicks: (s: any) => {
              s.ticks = X_TICKS.map((v) => ({ value: v }));
            },
            afterFit: (s: any) => {
              s.height = 99;
            },
            grid: {
              drawOnChartArea: false,
              drawTicks: true,
              tickLength: 14,
              tickWidth: 2.2,
              tickColor: '#000',
            },
            border: { display: true, color: '#000', width: 2.2 },
            ticks: {
              color: '#000',
              font: { family: FONT, size: 28 },
              padding: 8,
              maxRotation: 0,
              autoSkip: false,
              callback: (v: any) => String(v),
            },
          },
          y: {
            type: 'linear',
            min: Y_MIN,
            max: Y_MAX,
            afterBuildTicks: (s: any) => {
              s.ticks = Y_TICKS.map((v) => ({ value: v }));
            },
            afterFit: (s: any) => {
              s.width = 375;
            },
            grid: {
              drawOnChartArea: false,
              drawTicks: true,
              tickLength: 14,
              tickWidth: 2.2,
              tickColor: '#000',
            },
            border: { display: true, color: '#000', width: 2.2 },
            ticks: {
              color: '#000',
              font: { family: FONT, size: 33 },
              padding: 16,
              autoSkip: false,
              callback: (v: any) => fmtY(Number(v)),
            },
          },
        },
      },
      plugins: [mplPlugin],
    } as any);
    return () => chart.destroy();
  }, []);

  return (
    <div style={{ position: 'absolute', left: 0, top: 0, width: 3000, height: 900, background: '#ffffff' }}>
      <canvas ref={ref} width={3000} height={900} style={{ width: 3000, height: 900, display: 'block' }} />
    </div>
  );
}
